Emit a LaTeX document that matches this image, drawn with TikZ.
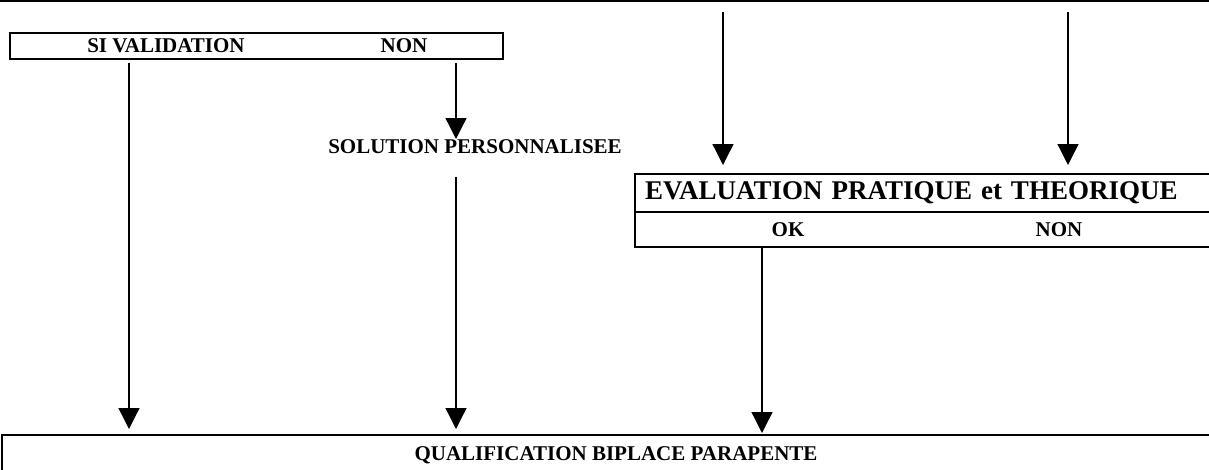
\documentclass[tikz,border=0pt]{standalone}
\usepackage{fontspec}
\setmainfont{Liberation Serif}
\usetikzlibrary{arrows.meta}

\tikzset{
  boxline/.style={draw, line width=2.4pt, inner sep=0pt, outer sep=0pt},
  flow/.style={line width=1.3pt, -{Triangle[length=21pt,width=21pt]}},
  small/.style={font=\fontsize{21}{24}\selectfont\bfseries},
  big/.style={font=\fontsize{27}{30}\selectfont\bfseries}
}

\begin{document}
\begin{tikzpicture}[x=1pt,y=-1pt]
\useasboundingbox (0,0) rectangle (1209,469);
\clip (0,0) rectangle (1209,469);

\draw[line width=2pt] (0,1) -- (1209,1);

% boxes
\node[boxline, anchor=north west, minimum width=493pt, minimum height=26pt] (valid) at (10,33) {};
\node[small] (si) at (166,46) {SI VALIDATION};
\node[small] (sinon) at (404,46) {NON};

\node[small] (perso) at (475,147) {SOLUTION PERSONNALISEE};

\node[boxline, big, anchor=north west, minimum width=595pt, minimum height=38pt,
      text width=575pt, inner xsep=10pt, align=left] (evalhead) at (635,174) {EVALUATION PRATIQUE et THEORIQUE};
\node[boxline, anchor=north west, minimum width=595pt, minimum height=35pt] (evalsub) at (635,212) {};
\node[small] (ok) at (788,230) {OK};
\node[small] (evalnon) at (1059,230) {NON};

\node[boxline, small, minimum width=1228pt, minimum height=40pt] (qualif) at (616,455) {QUALIFICATION BIPLACE PARAPENTE};

% free ends
\coordinate (in1) at (723,12);
\coordinate (in2) at (1068,12);
\coordinate (siout) at ([xshift=119pt]valid.south west);
\coordinate (nonout) at ([xshift=446pt]valid.south west);
\coordinate (persout) at (456,177);
\coordinate (okout) at ([xshift=127pt]evalsub.south west);

% arrows
\draw[flow, shorten <=4pt, shorten >=6pt] (siout) -- (siout |- qualif.north);
\draw[flow, shorten <=4pt] (nonout) -- ++(0,80);
\draw[flow, shorten >=6pt] (persout) -- (persout |- qualif.north);
\draw[flow, shorten >=2pt] (okout) -- (okout |- qualif.north);
\foreach \c in {in1,in2}{
  \draw[flow, shorten >=9pt] (\c) -- (\c |- evalhead.north);
}
\end{tikzpicture}
\end{document}
